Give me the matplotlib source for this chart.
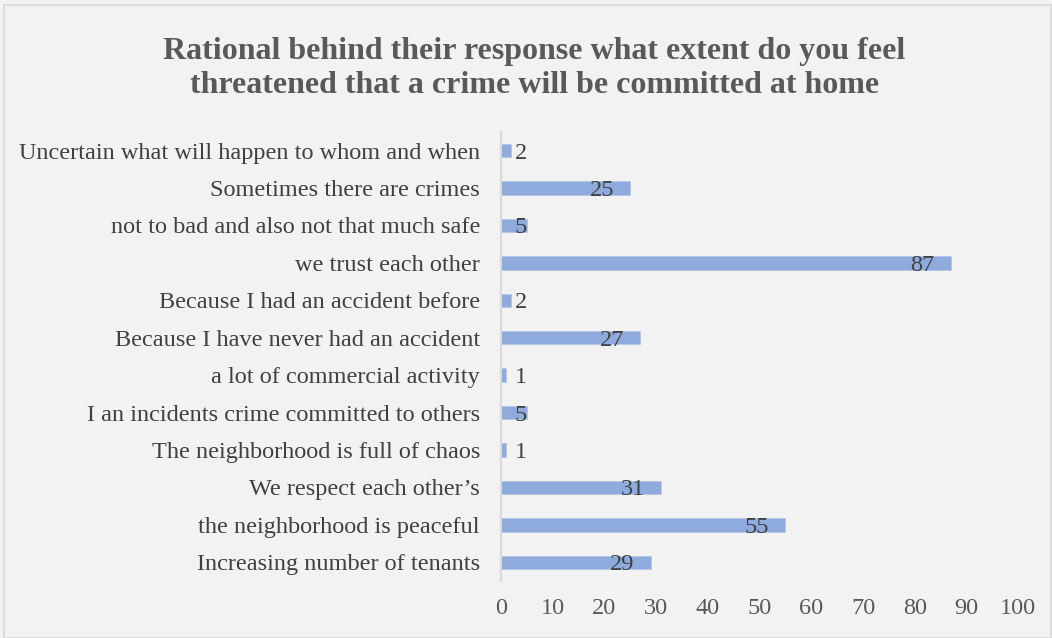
import matplotlib
matplotlib.use("Agg")
import matplotlib.pyplot as plt
from matplotlib.patches import Rectangle

plt.rcParams['font.family'] = ['Liberation Serif', 'DejaVu Serif']

# categories listed bottom to top
categories = [
    "Increasing number of tenants",
    "the neighborhood is peaceful",
    "We respect each other\u2019s",
    "The neighborhood is full of chaos",
    "I an incidents crime committed to others",
    "a lot of commercial activity",
    "Because I have never had an accident",
    "Because I had an accident before",
    "we trust each other",
    "not to bad and also not that much safe",
    "Sometimes there are crimes",
    "Uncertain what will happen to whom and when",
]
counts = [29, 55, 31, 1, 5, 1, 27, 2, 87, 5, 25, 2]
xticks = [0, 10, 20, 30, 40, 50, 60, 70, 80, 90, 100]

title = ("Rational behind their response what extent do you feel\n"
         "threatened that a crime will be committed at home")

bg = '#F2F2F2'
fig = plt.figure(figsize=(10.52, 6.38), dpi=100, facecolor=bg)
fig.patches.append(Rectangle((0.004, 0.0), 0.995, 0.992, transform=fig.transFigure,
                             fill=False, edgecolor='#D9D9D9', linewidth=1.2))

ax = fig.add_axes([0.476, 0.0893, 0.492, 0.704])
ax.set_facecolor(bg)

ypos = list(range(len(categories)))
ax.barh(ypos, counts, height=0.36, color='#8FAADC', edgecolor='#B4C7E7', linewidth=0.6)

for y, v in zip(ypos, counts):
    ax.text(max(v - 5.5, 3.9), y, str(v), ha='center', va='center_baseline',
            fontsize=17.5, color='#404040')

ax.set_xlim(0, 100)
ax.set_ylim(-0.5, len(categories) - 0.5)
ax.set_xticks(xticks)
ax.set_yticks(ypos)
ax.set_yticklabels(categories)
ax.tick_params(axis='both', length=0, labelsize=17.5)
ax.tick_params(axis='x', colors='#595959', pad=12)
ax.tick_params(axis='y', colors='#404040', pad=15)

for s in ['top', 'right', 'bottom']:
    ax.spines[s].set_visible(False)
ax.spines['left'].set_color('#D9D9D9')
ax.spines['left'].set_linewidth(1.5)

fig.text(0.508, 0.893, title, ha='center', va='center', fontsize=23,
         fontweight='bold', color='#595959', linespacing=1.25)

fig.savefig('out.png', dpi=100, facecolor=bg)
